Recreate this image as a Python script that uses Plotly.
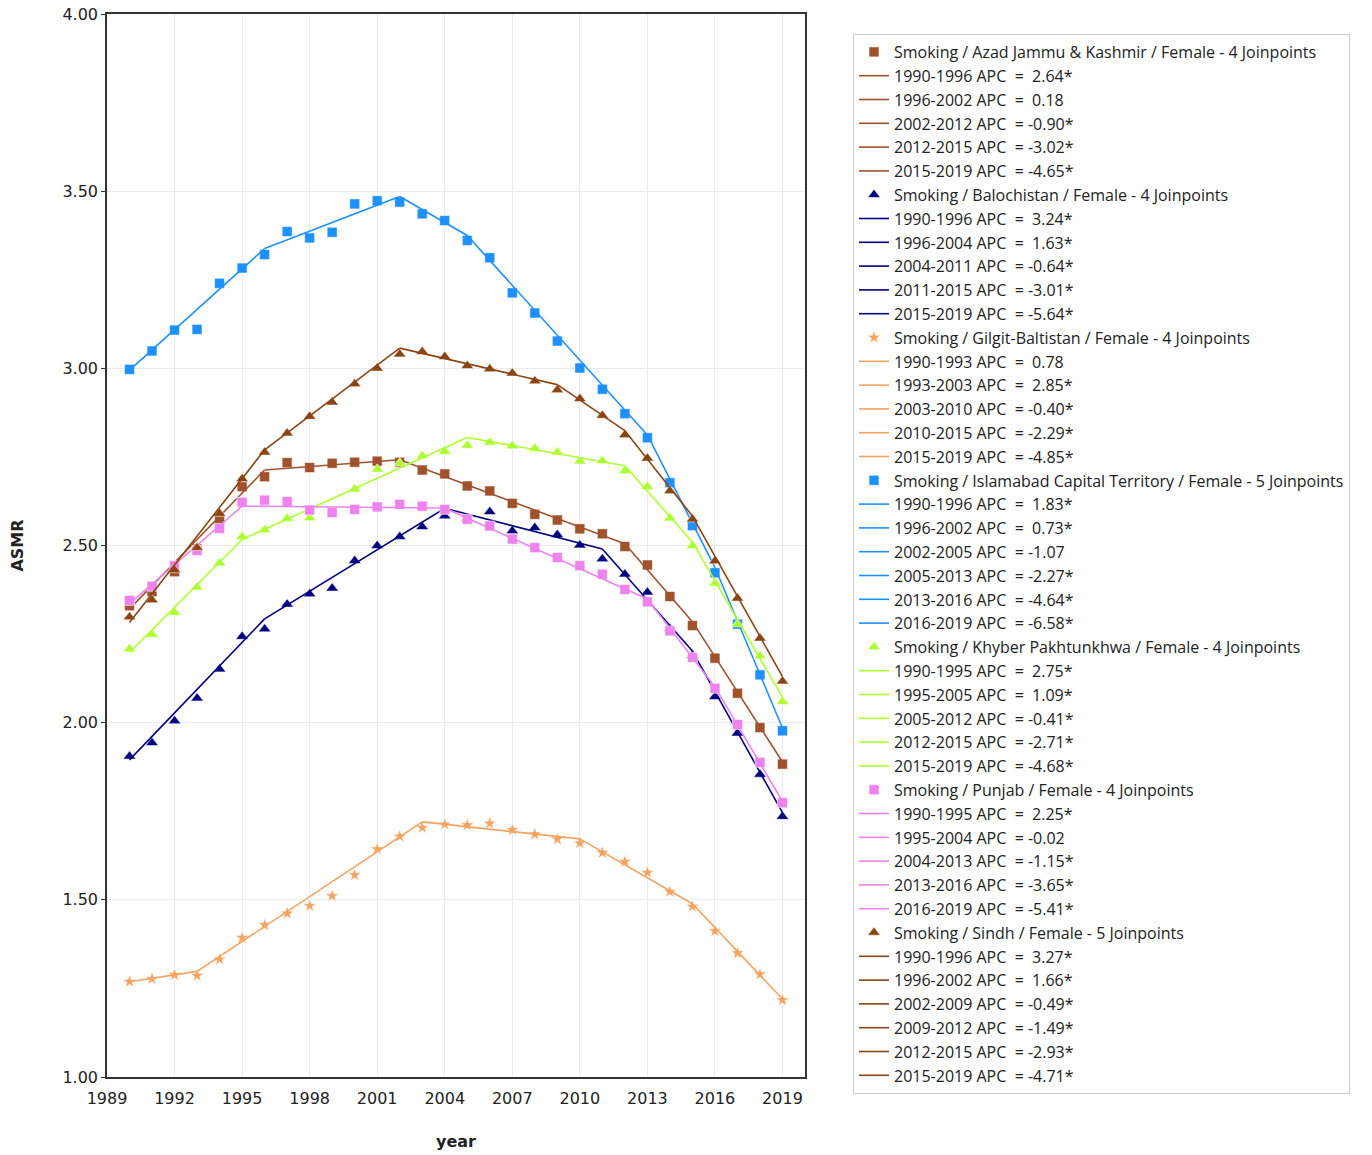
import plotly.graph_objects as go

years = list(range(1990, 2020))

ajk_obs = [2.33, 2.37, 2.426, 2.49, 2.572, 2.666, 2.694, 2.734, 2.72, 2.732, 2.735, 2.738, 2.735, 2.713, 2.702,
           2.668, 2.654, 2.619, 2.588, 2.572, 2.547, 2.533, 2.497, 2.445, 2.356, 2.274, 2.182, 2.083, 1.986, 1.883]
bal_obs = [1.905, 1.943, 2.005, 2.069, 2.151, 2.243, 2.264, 2.334, 2.363, 2.379, 2.457, 2.499, 2.525, 2.553, 2.583,
           2.575, 2.595, 2.541, 2.550, 2.530, 2.501, 2.462, 2.419, 2.368, 2.265, 2.19, 2.073, 1.970, 1.854, 1.735]
gil_obs = [1.269, 1.277, 1.288, 1.286, 1.332, 1.393, 1.429, 1.462, 1.483, 1.511, 1.570, 1.643, 1.679, 1.704, 1.713,
           1.711, 1.716, 1.697, 1.685, 1.671, 1.660, 1.633, 1.608, 1.577, 1.523, 1.481, 1.412, 1.350, 1.290, 1.217]
isl_obs = [2.997, 3.049, 3.108, 3.110, 3.240, 3.283, 3.321, 3.386, 3.368, 3.384, 3.464, 3.473, 3.469, 3.436, 3.417,
           3.361, 3.312, 3.213, 3.156, 3.077, 3.001, 2.941, 2.872, 2.804, 2.677, 2.556, 2.423, 2.278, 2.135, 1.977]
kp_obs = [2.208, 2.249, 2.311, 2.382, 2.450, 2.525, 2.544, 2.576, 2.578, 2.595, 2.659, 2.715, 2.732, 2.753, 2.765,
          2.782, 2.791, 2.781, 2.774, 2.763, 2.738, 2.739, 2.711, 2.666, 2.577, 2.499, 2.393, 2.278, 2.188, 2.059]
pun_obs = [2.345, 2.385, 2.443, 2.486, 2.548, 2.622, 2.628, 2.624, 2.600, 2.593, 2.602, 2.609, 2.616, 2.611, 2.602,
           2.574, 2.555, 2.518, 2.494, 2.466, 2.443, 2.419, 2.376, 2.341, 2.259, 2.184, 2.097, 1.995, 1.888, 1.774]
sin_obs = [2.298, 2.346, 2.431, 2.494, 2.590, 2.688, 2.763, 2.817, 2.864, 2.904, 2.956, 3.000, 3.040, 3.047, 3.033,
           3.007, 2.998, 2.986, 2.964, 2.939, 2.914, 2.867, 2.812, 2.746, 2.654, 2.574, 2.456, 2.351, 2.238, 2.117]

# Joinpoint model: segment boundary years and fitted values at them
ajk_joins = [1990, 1996, 2002, 2012, 2015, 2019]
ajk_fit = [2.321, 2.713, 2.742, 2.505, 2.285, 1.889]
ajk_apc = ["2.64*", "0.18", "-0.90*", "-3.02*", "-4.65*"]

bal_joins = [1990, 1996, 2004, 2011, 2015, 2019]
bal_fit = [1.895, 2.293, 2.605, 2.490, 2.202, 1.746]
bal_apc = ["3.24*", "1.63*", "-0.64*", "-3.01*", "-5.64*"]

gil_joins = [1990, 1993, 2003, 2010, 2015, 2019]
gil_fit = [1.269, 1.298, 1.720, 1.672, 1.489, 1.220]
gil_apc = ["0.78", "2.85*", "-0.40*", "-2.29*", "-4.85*"]

isl_joins = [1990, 1996, 2002, 2005, 2013, 2016, 2019]
isl_fit = [2.995, 3.338, 3.485, 3.375, 2.812, 2.438, 1.985]
isl_apc = ["1.83*", "0.73*", "-1.07", "-2.27*", "-4.64*", "-6.58*"]

kp_joins = [1990, 1995, 2005, 2012, 2015, 2019]
kp_fit = [2.198, 2.517, 2.805, 2.725, 2.510, 2.072]
kp_apc = ["2.75*", "1.09*", "-0.41*", "-2.71*", "-4.68*"]

pun_joins = [1990, 1995, 2004, 2013, 2016, 2019]
pun_fit = [2.336, 2.611, 2.606, 2.349, 2.101, 1.778]
pun_apc = ["2.25*", "-0.02", "-1.15*", "-3.65*", "-5.41*"]

sin_joins = [1990, 1996, 2002, 2009, 2012, 2015, 2019]
sin_fit = [2.283, 2.770, 3.057, 2.954, 2.824, 2.583, 2.130]
sin_apc = ["3.27*", "1.66*", "-0.49*", "-1.49*", "-2.93*", "-4.71*"]

series = [
    ("Smoking / Azad Jammu & Kashmir / Female - 4 Joinpoints", ajk_obs, ajk_joins, ajk_fit, ajk_apc, "#A0522D", "square", 10),
    ("Smoking / Balochistan / Female - 4 Joinpoints", bal_obs, bal_joins, bal_fit, bal_apc, "#000080", "triangle-up", 11),
    ("Smoking / Gilgit-Baltistan / Female - 4 Joinpoints", gil_obs, gil_joins, gil_fit, gil_apc, "#F4A460", "star", 10),
    ("Smoking / Islamabad Capital Territory / Female - 5 Joinpoints", isl_obs, isl_joins, isl_fit, isl_apc, "#1E90FF", "square", 10),
    ("Smoking / Khyber Pakhtunkhwa / Female - 4 Joinpoints", kp_obs, kp_joins, kp_fit, kp_apc, "#ADFF2F", "triangle-up", 11),
    ("Smoking / Punjab / Female - 4 Joinpoints", pun_obs, pun_joins, pun_fit, pun_apc, "#EE82EE", "square", 10),
    ("Smoking / Sindh / Female - 5 Joinpoints", sin_obs, sin_joins, sin_fit, sin_apc, "#8B4513", "triangle-up", 11),
]

NB = "\u00a0"
fig = go.Figure()
for name, obs, joins, fit, apcs, color, symbol, msize in series:
    fig.add_trace(go.Scatter(
        x=years, y=obs, mode="markers", name=name,
        marker=dict(symbol=symbol, size=msize, color=color,
                    line=dict(width=0.8, color="rgba(255,255,255,0.7)")),
    ))
    for i, apc in enumerate(apcs):
        sign_pad = "" if apc.startswith("-") else NB
        label = f"{joins[i]}-{joins[i+1]}{NB}APC{NB}{NB}={NB}{sign_pad}{apc}"
        fig.add_trace(go.Scatter(
            x=[joins[i], joins[i + 1]], y=[fit[i], fit[i + 1]],
            mode="lines", name=label,
            line=dict(color=color, width=1.6),
        ))

fig.update_layout(
    width=1372, height=1155,
    margin=dict(l=107, r=567, t=14, b=78, autoexpand=False),
    plot_bgcolor="white", paper_bgcolor="white",
    showlegend=True,
    legend=dict(
        x=(853 - 107) / 698, y=(1077 - 34) / 1063, xanchor="left", yanchor="top",
        bgcolor="white", bordercolor="#cccccc", borderwidth=1,
        font=dict(family="Open Sans", size=16, color="#222222"),
        traceorder="normal",
    ),
    xaxis=dict(
        range=[1989, 2020], tick0=1989, dtick=3,
        showgrid=True, gridcolor="#ebebeb", gridwidth=1,
        showline=True, linecolor="#333333", linewidth=1.5, mirror=True,
        ticks="", zeroline=False, ticklabelstandoff=6, ticklabeloverflow="allow",
        tickfont=dict(family="DejaVu Sans", size=16, color="#222222"),
        title=dict(text="year", standoff=29,
                   font=dict(family="DejaVu Sans", size=16, color="#222222", weight="bold")),
    ),
    yaxis=dict(
        range=[1, 4], tick0=1, dtick=0.5, tickformat=".2f",
        showgrid=True, gridcolor="#ebebeb", gridwidth=1,
        showline=True, linecolor="#333333", linewidth=1.5, mirror=True,
        ticks="outside", ticklen=4, tickcolor="#333333", zeroline=False,
        ticklabeloverflow="allow",
        tickfont=dict(family="DejaVu Sans", size=16, color="#222222"),
        title=dict(text="ASMR", standoff=35,
                   font=dict(family="DejaVu Sans", size=16, color="#222222", weight="bold")),
    ),
)

fig.write_html("out.html", config={"displayModeBar": False},
               post_script="document.body.style.margin='0';document.body.style.overflow='hidden';")
